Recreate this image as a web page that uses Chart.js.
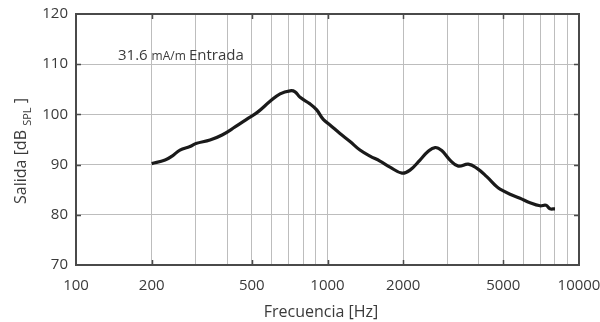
<!DOCTYPE html>
<html>
<head>
<meta charset="utf-8">
<script src="https://cdn.jsdelivr.net/npm/chart.js@4.4.0/dist/chart.umd.min.js"></script>
<style>
  html, body { margin: 0; padding: 0; background: #fff; }
</style>
</head>
<body>
<canvas id="graficoSalida" width="600" height="322"></canvas>
<script>
// respuesta en frecuencia
const freqHz = [200, 226, 241, 259, 284, 300, 341, 381, 429, 483, 529, 591, 648, 710, 743, 778,
  852, 906, 962, 1023, 1121, 1229, 1346, 1476, 1617, 1772, 1978, 2128, 2332, 2509, 2676, 2846,
  3070, 3312, 3628, 3921, 4296, 4707, 4853, 5318, 5827, 6387, 6997, 7392, 7667, 8029];
const salidaDb = [90.2, 90.9, 91.7, 92.9, 93.6, 94.2, 94.9, 95.9, 97.5, 99.2, 100.5, 102.6, 104.1, 104.7, 104.5, 103.4,
  102.1, 100.9, 99.0, 97.9, 96.2, 94.6, 92.9, 91.7, 90.7, 89.5, 88.3, 88.9, 90.9, 92.6, 93.4, 92.8,
  90.9, 89.7, 90.1, 89.3, 87.6, 85.6, 85.1, 84.1, 83.3, 82.4, 81.8, 81.9, 81.2, 81.2];

const xTickLabels = [100, 200, 500, 1000, 2000, 5000, 10000];
const xMajorTicks = [200, 500, 1000, 2000, 5000];
const yTickValues = [80, 90, 100, 110];

const fuente = '"Open Sans", "DejaVu Sans", sans-serif';
const colorTexto = '#3a3a3a';

// marco, marcas internas y textos
const marcoPlugin = {
  id: 'marco',
  afterDraw(chart) {
    const ctx = chart.ctx;
    const a = chart.chartArea;
    const x = chart.scales.x;
    const y = chart.scales.y;
    ctx.save();
    ctx.strokeStyle = '#4a4a4a';
    ctx.lineWidth = 2;
    ctx.strokeRect(a.left, a.top, a.right - a.left, a.bottom - a.top);

    ctx.lineWidth = 1.5;
    ctx.beginPath();
    xMajorTicks.forEach(v => {
      const px = Math.round(x.getPixelForValue(v)) + 0.5;
      ctx.moveTo(px, a.top); ctx.lineTo(px, a.top + 5);
      ctx.moveTo(px, a.bottom); ctx.lineTo(px, a.bottom - 5);
    });
    yTickValues.forEach(v => {
      const py = Math.round(y.getPixelForValue(v)) + 0.5;
      ctx.moveTo(a.right, py); ctx.lineTo(a.right - 5, py);
      ctx.moveTo(a.left, py); ctx.lineTo(a.left + 5, py);
    });
    ctx.stroke();

    ctx.fillStyle = colorTexto;
    ctx.textBaseline = 'alphabetic';

    // anotación
    ctx.textAlign = 'left';
    let tx = 118;
    const ty = 60;
    ctx.font = '15px ' + fuente;
    ctx.fillText('31.6', tx, ty);
    tx += ctx.measureText('31.6 ').width;
    ctx.font = '12px ' + fuente;
    ctx.fillText('mA/m', tx, ty);
    tx += ctx.measureText('mA/m ').width;
    ctx.font = '15px ' + fuente;
    ctx.fillText('Entrada', tx, ty);

    // título eje x
    ctx.font = '16px ' + fuente;
    ctx.textAlign = 'center';
    ctx.fillText('Frecuencia [Hz]', 321, 317);

    // título eje y con subíndice
    ctx.translate(26, 151);
    ctx.rotate(-Math.PI / 2);
    const p1 = 'Salida [dB ', p2 = 'SPL', p3 = ' ]';
    ctx.font = '16px ' + fuente;
    const w1 = ctx.measureText(p1).width, w3 = ctx.measureText(p3).width;
    ctx.font = '11px ' + fuente;
    const w2 = ctx.measureText(p2).width;
    let sx = -(w1 + w2 + w3) / 2;
    ctx.textAlign = 'left';
    ctx.font = '16px ' + fuente;
    ctx.fillText(p1, sx, 0);
    sx += w1;
    ctx.font = '11px ' + fuente;
    ctx.fillText(p2, sx, 5);
    sx += w2;
    ctx.font = '16px ' + fuente;
    ctx.fillText(p3, sx, 0);
    ctx.restore();
  }
};

new Chart(document.getElementById('graficoSalida').getContext('2d'), {
  type: 'line',
  data: {
    datasets: [{
      label: 'Salida',
      data: freqHz.map((f, i) => ({ x: f, y: salidaDb[i] })),
      borderColor: '#1a1a1a',
      borderWidth: 3.2,
      pointRadius: 0,
      tension: 0.4,
      fill: false
    }]
  },
  options: {
    responsive: false,
    animation: false,
    devicePixelRatio: 1,
    layout: { padding: { top: 14, right: 21, left: 0, bottom: 0 } },
    plugins: {
      legend: { display: false },
      tooltip: { enabled: false }
    },
    scales: {
      x: {
        type: 'logarithmic',
        min: 100,
        max: 10000,
        afterFit: s => { s.height = 57; s.paddingLeft = 0; s.paddingRight = 0; },
        afterBuildTicks: s => {
          const lista = [];
          for (let d = 100; d < 10000; d *= 10) {
            for (let k = 1; k < 10; k++) lista.push({ value: d * k });
          }
          lista.push({ value: 10000 });
          s.ticks = lista;
        },
        grid: { color: '#bdbdbd', lineWidth: 1, drawTicks: false },
        border: { display: false },
        ticks: {
          autoSkip: false,
          maxRotation: 0,
          padding: 12,
          color: colorTexto,
          font: { family: fuente, size: 15 },
          callback: v => xTickLabels.includes(v) ? String(v) : ''
        }
      },
      y: {
        min: 70,
        max: 120,
        afterFit: s => { s.width = 76; s.paddingTop = 0; s.paddingBottom = 0; },
        grid: { color: '#bdbdbd', lineWidth: 1, drawTicks: false },
        border: { display: false },
        ticks: {
          stepSize: 10,
          padding: 8,
          color: colorTexto,
          font: { family: fuente, size: 15 }
        }
      }
    }
  },
  plugins: [marcoPlugin]
});
</script>
</body>
</html>
